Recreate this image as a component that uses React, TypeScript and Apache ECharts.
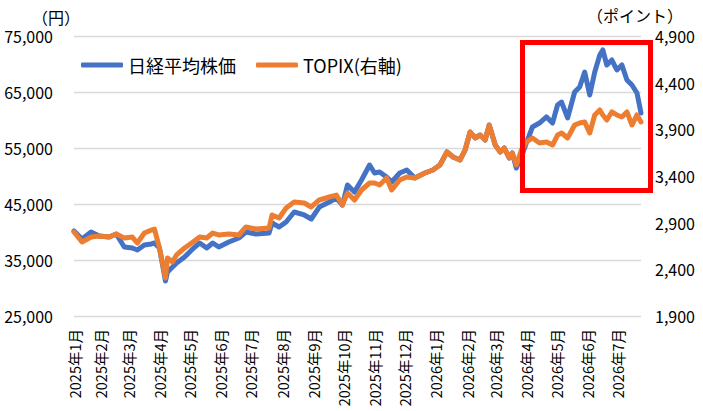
import React, { useEffect, useRef } from "react";
import * as echarts from "echarts";

// ---- data ----
const dates = [
  "2025-01-06", "2025-01-14", "2025-01-23", "2025-01-31", "2025-02-10", "2025-02-17", "2025-02-25",
  "2025-03-05", "2025-03-10", "2025-03-17", "2025-03-24", "2025-03-27", "2025-04-01", "2025-04-07",
  "2025-04-09", "2025-04-14", "2025-04-18", "2025-04-26", "2025-05-03", "2025-05-11", "2025-05-18",
  "2025-05-24", "2025-05-30", "2025-06-09", "2025-06-19", "2025-06-26", "2025-07-06", "2025-07-19",
  "2025-07-22", "2025-07-29", "2025-08-05", "2025-08-13", "2025-08-23", "2025-08-30", "2025-09-07",
  "2025-09-17", "2025-09-24", "2025-09-30", "2025-10-05", "2025-10-12", "2025-10-19", "2025-10-27",
  "2025-11-01", "2025-11-06", "2025-11-13", "2025-11-18", "2025-11-26", "2025-12-03", "2025-12-11",
  "2025-12-21", "2025-12-29", "2026-01-05", "2026-01-12", "2026-01-18", "2026-01-25", "2026-01-30",
  "2026-02-04", "2026-02-09", "2026-02-14", "2026-02-19", "2026-02-23", "2026-03-01", "2026-03-06",
  "2026-03-10", "2026-03-15", "2026-03-18", "2026-03-22", "2026-03-27", "2026-04-01", "2026-04-07",
  "2026-04-14", "2026-04-21", "2026-04-27", "2026-05-02", "2026-05-06", "2026-05-12", "2026-05-19",
  "2026-05-24", "2026-05-29", "2026-06-03", "2026-06-08", "2026-06-13", "2026-06-16", "2026-06-20",
  "2026-06-25", "2026-06-30", "2026-07-05", "2026-07-10", "2026-07-15", "2026-07-20", "2026-07-24",
];

const nikkei = [
  40180, 38750, 40000, 39290, 39110, 39640, 37320,
  37140, 36790, 37680, 37860, 38040, 37140, 31250,
  32860, 33750, 34460, 35540, 36790, 38040, 37140,
  38040, 37320, 38210, 38930, 40000, 39640, 39820,
  41610, 40890, 41790, 43570, 43040, 42320, 44460,
  45360, 46070, 44820, 48390, 47140, 49290, 51960,
  50540, 50710, 49820, 48930, 50540, 51070, 49640,
  50540, 51070, 51960, 54290, 53390, 52860, 54640,
  57860, 56790, 57320, 56430, 59110, 55540, 54290,
  55000, 53210, 54110, 51430, 53390, 55890, 58750,
  59460, 60540, 59460, 62680, 63210, 60360, 65000,
  65890, 68570, 64460, 68570, 71610, 72500, 69820,
  70710, 68930, 69820, 67140, 66250, 64820, 61250,
];

const topix = [
  2800, 2693, 2746, 2757, 2746, 2779, 2736,
  2746, 2682, 2789, 2821, 2832, 2629, 2307,
  2521, 2479, 2554, 2629, 2682, 2746, 2736,
  2789, 2768, 2779, 2768, 2854, 2832, 2843,
  2982, 2950, 3057, 3121, 3111, 3068, 3143,
  3175, 3196, 3089, 3218, 3143, 3250, 3325,
  3325, 3304, 3379, 3250, 3357, 3389, 3379,
  3432, 3464, 3518, 3657, 3604, 3571, 3679,
  3871, 3807, 3839, 3786, 3946, 3732, 3657,
  3700, 3593, 3646, 3518, 3679, 3764, 3807,
  3754, 3764, 3732, 3839, 3861, 3807, 3946,
  3968, 3979, 3861, 4054, 4107, 4054, 4000,
  4086, 4054, 4032, 4086, 3946, 4054, 3979,
];

const seriesNames = ["日経平均株価", "TOPIX(右軸)"];
const leftAxisTitle = "（円）";
const rightAxisTitle = "（ポイント）";
const leftTicks = { min: 25000, max: 75000, step: 10000 };
const rightTicks = { min: 1900, max: 4900, step: 500 };

const FONT = "'Noto Sans CJK JP', 'Noto Sans', sans-serif";

function toTime(d: string): number {
  const [y, m, dd] = d.split("-").map(Number);
  return new Date(y, m - 1, dd).getTime();
}

function fmtNum(v: number): string {
  return Math.round(v).toLocaleString("en-US");
}

export default function App() {
  const ref = useRef<HTMLDivElement>(null);

  useEffect(() => {
    if (!ref.current) return;
    const chart = echarts.init(ref.current, undefined, { renderer: "svg" });
    const times = dates.map(toTime);

    chart.setOption({
      animation: false,
      backgroundColor: "#ffffff",
      textStyle: { fontFamily: FONT },
      grid: { left: 74, right: 62, top: 36, bottom: 95, containLabel: false, outerBoundsMode: "none" },
      legend: {
        left: 81,
        top: 56,
        padding: 0,
        icon: "roundRect",
        itemWidth: 42,
        itemHeight: 5,
        itemGap: 20,
        textStyle: { fontFamily: FONT, fontSize: 18, color: "#000" },
        data: seriesNames,
      },
      xAxis: {
        type: "time",
        min: times[0],
        max: times[times.length - 1],
        minInterval: 28 * 86400000,
        maxInterval: 31 * 86400000,
        axisLine: { show: false },
        axisTick: { show: false },
        splitLine: { show: false },
        axisLabel: {
          rotate: 90,
          margin: 13,
          fontSize: 14.5,
          color: "#000",
          fontFamily: FONT,
          showMinLabel: true,
          showMaxLabel: false,
          hideOverlap: false,
          formatter: (v: number) => {
            const d = new Date(v);
            return `${d.getFullYear()}年${d.getMonth() + 1}月`;
          },
        },
      },
      yAxis: [
        {
          type: "value",
          min: leftTicks.min,
          max: leftTicks.max,
          interval: leftTicks.step,
          axisLine: { show: false },
          axisTick: { show: false },
          splitLine: { show: true, lineStyle: { color: "#d9d9d9", width: 1.3 } },
          axisLabel: { margin: 21, fontSize: 16, color: "#000", fontFamily: FONT, formatter: fmtNum },
        },
        {
          type: "value",
          min: rightTicks.min,
          max: rightTicks.max,
          interval: rightTicks.step,
          position: "right",
          axisLine: { show: false },
          axisTick: { show: false },
          splitLine: { show: false },
          axisLabel: { margin: 14, fontSize: 16, color: "#000", fontFamily: FONT, formatter: fmtNum },
        },
      ],
      series: [
        {
          name: seriesNames[0],
          type: "line",
          yAxisIndex: 0,
          showSymbol: false,
          symbol: "none",
          color: "#4472C4",
          lineStyle: { color: "#4472C4", width: 5, cap: "round", join: "round" },
          data: times.map((t, i) => [t, nikkei[i]]),
        },
        {
          name: seriesNames[1],
          type: "line",
          yAxisIndex: 1,
          showSymbol: false,
          symbol: "none",
          color: "#ED7D31",
          lineStyle: { color: "#ED7D31", width: 5, cap: "round", join: "round" },
          data: times.map((t, i) => [t, topix[i]]),
        },
      ],
      graphic: [
        {
          type: "text",
          x: 32,
          y: 17,
          style: { text: leftAxisTitle, font: `16px ${FONT}`, fill: "#000", textAlign: "left", textVerticalAlign: "middle" },
        },
        {
          type: "text",
          x: 587,
          y: 15,
          style: { text: rightAxisTitle, font: `16px ${FONT}`, fill: "#000", textAlign: "left", textVerticalAlign: "middle" },
        },
        {
          type: "rect",
          z: 100,
          shape: { x: 522.5, y: 42.5, width: 128, height: 148 },
          style: { fill: "none", stroke: "#FF0000", lineWidth: 5 },
        },
      ],
    });

    return () => chart.dispose();
  }, []);

  return (
    <div
      ref={ref}
      style={{ position: "fixed", left: 0, top: 0, width: 703, height: 411, background: "#fff" }}
    />
  );
}
